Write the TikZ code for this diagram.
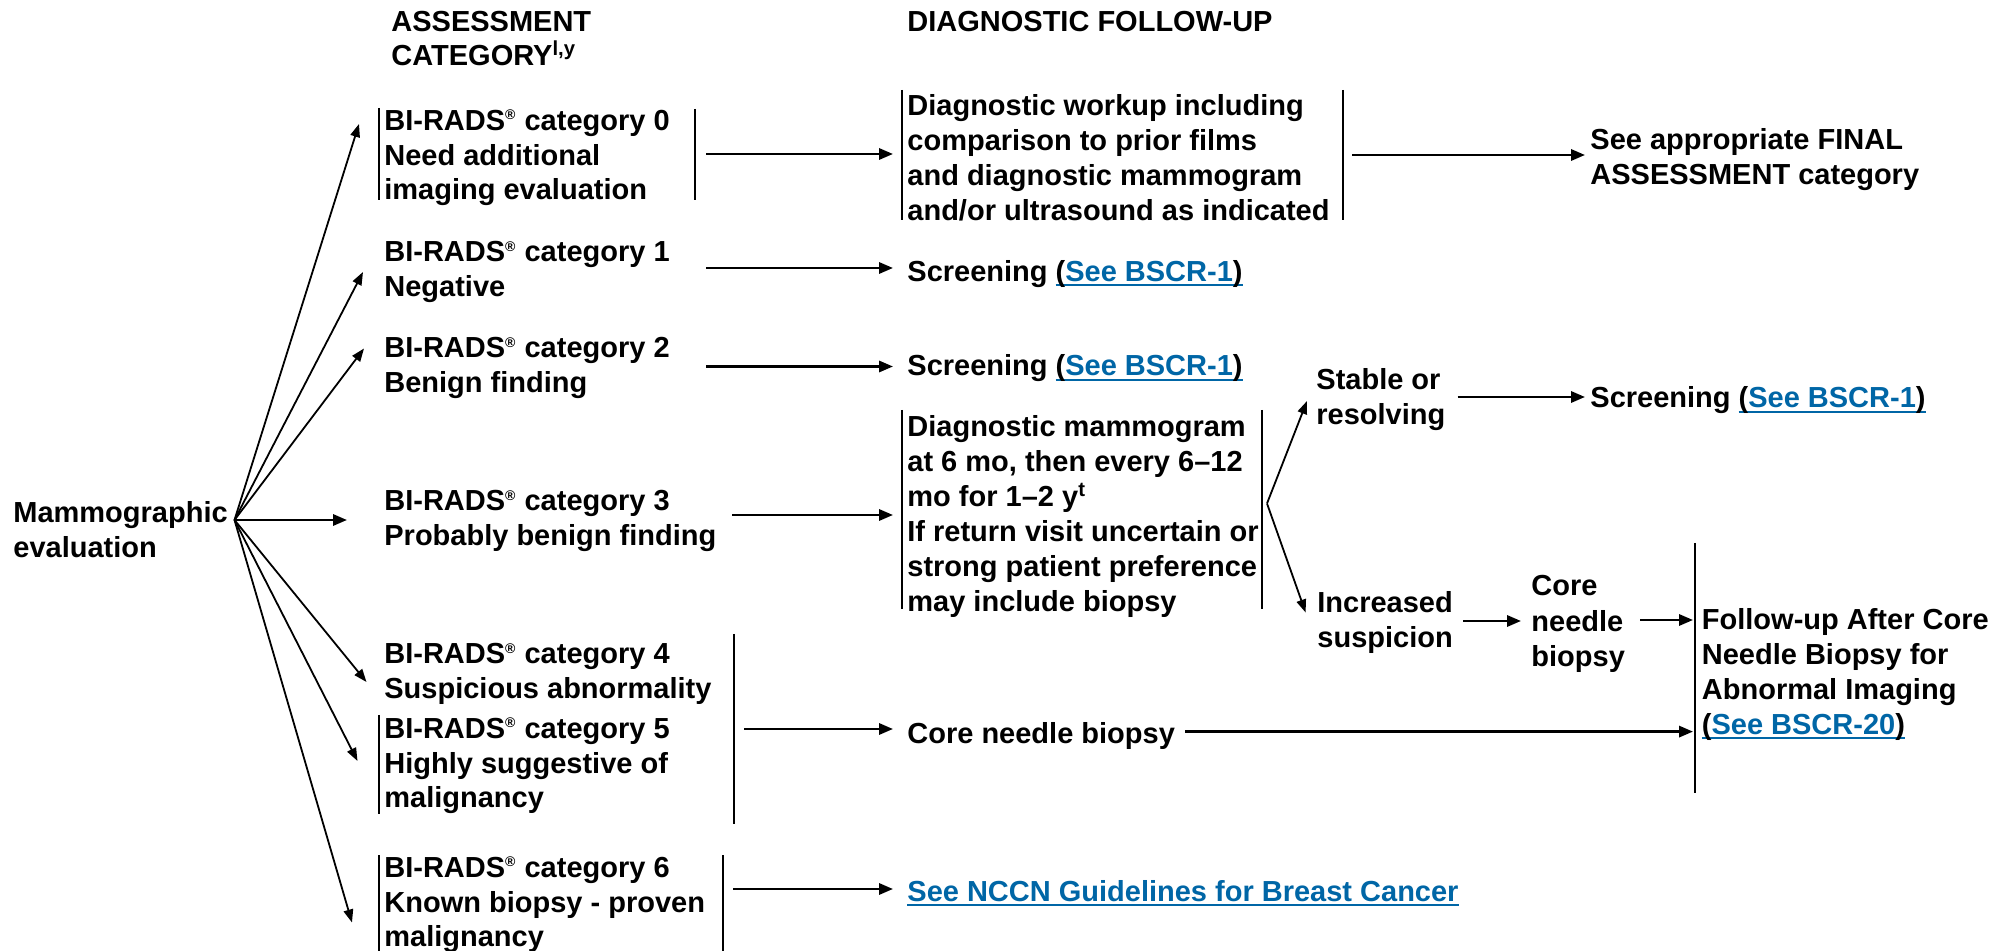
\documentclass[tikz,border=0pt]{standalone}
\usepackage{fontspec}
\setmainfont{Liberation Sans}
\usetikzlibrary{arrows.meta,calc}
\definecolor{linkblue}{RGB}{0,102,166}
% underline a piece of text with a thin rule just under the baseline
\newcommand\ulrule[1]{\setbox0\hbox{#1}\rlap{\raisebox{-2.4pt}{\rule{\wd0}{0.9pt}}}\box0}
\newcommand\reg{\textsuperscript{\scriptsize ®}}
\newcommand\seebscr[1]{\textcolor{linkblue}{\ulrule{\textcolor{black}{(}See BSCR-#1\textcolor{black}{)}}}}
\begin{document}
\begin{tikzpicture}[x=0.5pt,y=-0.5pt,
  head/.style={anchor=west,inner sep=0pt,align=left,
    font=\bfseries\fontsize{14.5}{17.3}\selectfont},
  txt/.style={head,yshift=-1.5pt,font=\bfseries\fontsize{14.5}{17.45}\selectfont},
  bar/.style={line width=1pt},
  fan/.style={line width=0.9pt,-{Triangle[length=6.5pt,width=4.8pt]}},
  harr/.style={line width=1.3pt,-{Triangle[length=7pt,width=5.6pt]}}]
\useasboundingbox (0,0) rectangle (2009,951);

% column headings
\node[head] (hA) at (391,38.5) {ASSESSMENT\\CATEGORY\textsuperscript{l,y}};
\node[head] (hD) at (907,22) {DIAGNOSTIC FOLLOW-UP};

% starting point
\node[txt] (mam) at (13,526.5) {Mammographic\\evaluation};
\coordinate (root) at (234.5,520);

% assessment categories
\node[txt] (c0) at (384,155) {BI-RADS\reg{} category 0\\Need additional\\imaging evaluation};
\node[txt] (c1) at (384,269) {BI-RADS\reg{} category 1\\Negative};
\node[txt] (c2) at (384,365) {BI-RADS\reg{} category 2\\Benign finding};
\node[txt] (c3) at (384,518) {BI-RADS\reg{} category 3\\Probably benign finding};
\node[txt] (c4) at (384,671) {BI-RADS\reg{} category 4\\Suspicious abnormality};
\node[txt] (c5) at (384,763) {BI-RADS\reg{} category 5\\Highly suggestive of\\malignancy};
\node[txt] (c6) at (384,902) {BI-RADS\reg{} category 6\\Known biopsy - proven\\malignancy};

% follow-up column
\node[txt] (dw) at (907,154.5) {Diagnostic workup including\\comparison to prior films\\and diagnostic mammogram\\and/or ultrasound as indicated};
\node[txt] (fin) at (1590,157) {See appropriate FINAL\\ASSESSMENT category};
\node[txt] (s1) at (907,271) {Screening \seebscr{1}};
\node[txt] (s2) at (907,365.5) {Screening \seebscr{1}};
\node[txt] (dm) at (907,513.5) {Diagnostic mammogram\\at 6 mo, then every 6–12\\mo for 1–2 y\textsuperscript{t}\\If return visit uncertain or\\strong patient preference\\may include biopsy};
\node[txt] (st) at (1316,396.5) {Stable or\\resolving};
\node[txt] (s3) at (1590,397.5) {Screening \seebscr{1}};
\node[txt] (inc) at (1317,619.5) {Increased\\suspicion};
\node[txt,font=\bfseries\fontsize{14.5}{17.9}\selectfont] (cnb) at (1531,621) {Core\\needle\\biopsy};
\node[txt] (fu) at (1701.5,671.5) {Follow-up After Core\\Needle Biopsy for\\Abnormal Imaging\\\seebscr{20}};
\node[txt] (cn) at (907,733) {Core needle biopsy};
\node[txt] (nccn) at (907,890) {\textcolor{linkblue}{\ulrule{See NCCN Guidelines for Breast Cancer}}};

% bracket bars
\draw[bar] (379,108) -- (379,200);
\draw[bar] (694.5,109) -- (694.5,200);
\draw[bar] (902,90) -- (902,220);
\draw[bar] (1343,90) -- (1343,220);
\draw[bar] (902,410) -- (902,609);
\draw[bar] (1262,410) -- (1262,609);
\draw[bar] (1695,543) -- (1695,793);
\draw[bar] (379,715) -- (379,813.5);
\draw[bar] (734,634) -- (734,824);
\draw[bar] (379,855) -- (379,951);
\draw[bar] (722.6,855) -- (722.6,951);

% fan of arrows from the evaluation
\coordinate (t0) at (359,124);
\coordinate (t1) at (363,272);
\coordinate (t2) at (364,348.5);
\coordinate (t3) at (347,520);
\coordinate (t4) at (366.5,682);
\coordinate (t5) at (357.5,761);
\coordinate (t6) at (352,922.5);
\foreach \t in {t0,t1,t2,t4,t5,t6} \draw[fan] (root) -- (\t);
\draw[harr] (root) -- (t3);

% arrows to the follow-up column
\coordinate (a0) at (706,154);
\coordinate (a1) at (706,268);
\coordinate (a2) at (706,366.5);
\coordinate (a3) at (732,515);
\coordinate (a45) at (744,729);
\coordinate (a6) at (733,889);
\draw[harr] (a0) -- ($(dw.west |- a0)+(-14,0)$);
\draw[harr] (a1) -- ($(s1.west |- a1)+(-14,0)$);
\draw[harr] (a2) -- ($(s2.west |- a2)+(-14,0)$);
\draw[harr] (a3) -- ($(dm.west |- a3)+(-14,0)$);
\draw[harr] (a45) -- ($(cn.west |- a45)+(-14,0)$);
\draw[harr] (a6) -- ($(nccn.west |- a6)+(-14,0)$);

\coordinate (af) at (1352,155);
\draw[harr] (af) -- ($(fin.west |- af)+(-5,0)$);

% branches after short-interval follow-up
\coordinate (sp) at (1267,503.5);
\coordinate (tS) at (1307,401);
\coordinate (tI) at (1305.6,612.5);
\draw[fan] (sp) -- (tS);
\draw[fan] (sp) -- (tI);
\draw[harr] ($(st.east)+(12,-2.5)$) -- ($(s3.west |- st.east)+(-5,-2.5)$);
\draw[harr] ($(inc.east)+(10,-1.5)$) -- ($(cnb.west |- inc.east)+(-10,-1.5)$);
\draw[harr] ($(cnb.east)+(15,-4)$) -- ($(fu.west |- cnb.east)+(-8.5,-4)$);
\draw[harr] ($(cn.east)+(10,-4.4)$) -- ($(fu.west |- cn.east)+(-8.5,-4.4)$);
\end{tikzpicture}
\end{document}
